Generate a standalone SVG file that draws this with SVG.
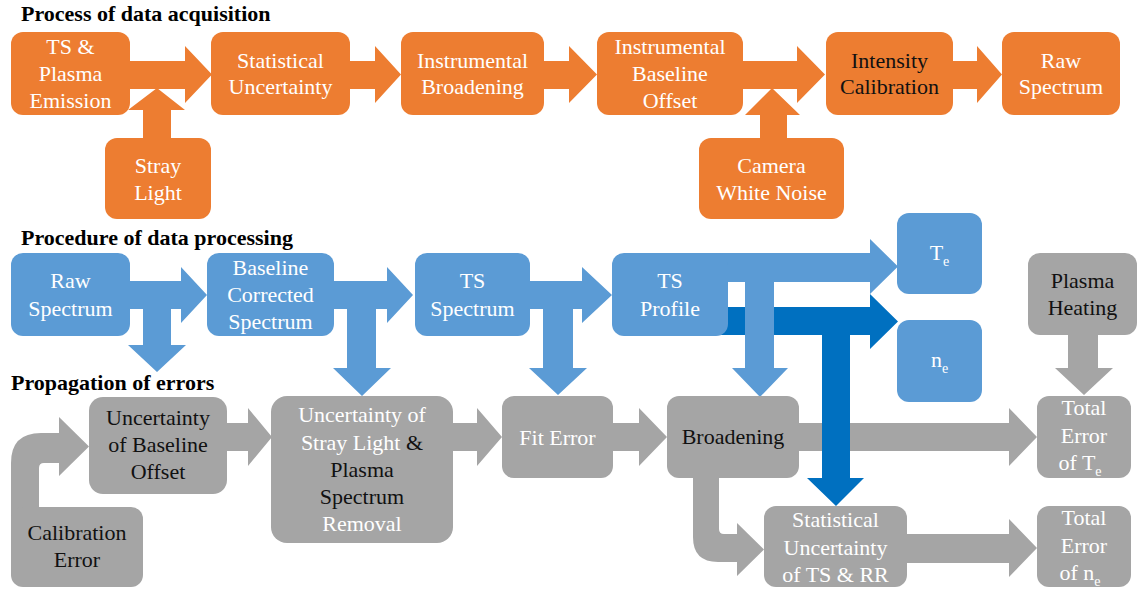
<svg xmlns="http://www.w3.org/2000/svg" width="1138" height="592" viewBox="0 0 1138 592">
<style>
.or{fill:#ED7D31}
.lb{fill:#5B9BD5}
.db{fill:#0070C0}
.gr{fill:#A5A5A5}
.w{fill:#FFFFFF}
.k{fill:#111111}
</style>
<rect width="1138" height="592" fill="#FFFFFF"/>
<g font-family="Liberation Serif, Times New Roman, serif" font-size="22" font-weight="bold" fill="#000000">
<text x="21" y="21">Process of data acquisition</text>
<text x="21" y="245">Procedure of data processing</text>
<text x="11" y="390">Propagation of errors</text>
</g>

<g id="connectors">
  <path class="or" d="M125,61 H185 V46 L212,74.5 L185,103 V89 H125 Z"/>
  <path class="or" d="M143,140 V110 H128 L157,88 L185,110 H171 V140 Z"/>
  <path class="or" d="M345,61 H375 V46 L401,74.5 L375,103 V89 H345 Z"/>
  <path class="or" d="M540,61 H569 V46 L597,74.5 L569,103 V89 H540 Z"/>
  <path class="or" d="M738,61 H797 V46 L825,74.5 L797,103 V89 H738 Z"/>
  <path class="or" d="M760,140 V115 H745 L772,88 L800,115 H787 V140 Z"/>
  <path class="or" d="M948,61 H977 V46 L1002,74.5 L977,103 V89 H948 Z"/>
  <path class="lb" d="M125,281 H181 V267 L207,295 L181,323 V309 H125 Z"/>
  <path class="lb" d="M143,300 H171 V345 H186 L157,372 L128,345 H143 Z"/>
  <path class="lb" d="M330,281 H387 V267 L413,295 L387,323 V309 H376 V368 H391 L362,396 L333,368 H347 V309 H330 Z"/>
  <path class="lb" d="M525,281 H582 V267 L612,295 L582,323 V309 H573 V368 H587 L558,395 L529,368 H543 V309 H525 Z"/>
  <path class="db" d="M715,307 H870 V294 L898,321.5 L870,349 V335 H715 Z"/>
  <path class="lb" d="M700,253 H870 V239 L898,266.5 L870,294 V282 H774 V368 H788 L760,397 L732,368 H745 V282 H700 Z"/>
  <path class="gr" d="M1068,330 H1098 V368 H1113 L1084,395 L1055,368 H1068 Z"/>
  <path class="gr" d="M11,520 V463 Q11,433 41,433 H59 V417 L89,446.5 L59,476 V463 H44 Q39,463 39,468 V520 Z"/>
  <path class="gr" d="M222,423 H248 V408 L272,437 L248,466 V451 H222 Z"/>
  <path class="gr" d="M448,423 H477 V408 L502,437 L477,466 V451 H448 Z"/>
  <path class="gr" d="M608,423 H639 V408 L667,437 L639,466 V451 H608 Z"/>
  <path class="gr" d="M794,423 H1009 V408 L1037,437 L1009,466 V451 H794 Z"/>
  <path class="gr" d="M693,470 H719 V529 Q719,534 724,534 H737 V523 L764,549.5 L737,576 V562 H718 Q693,562 693,537 Z"/>
  <path class="gr" d="M902,534 H1009 V519 L1037,548 L1009,577 V563 H902 Z"/>
  <path class="db" d="M822,320 H850 V478 H864 L836,506 L807,478 H822 Z"/>
</g>

<g font-family="Liberation Serif, Times New Roman, serif" font-size="22" text-anchor="middle">
<g id="n-ts-plasma-emission"><rect class="or" x="11" y="32" width="119" height="83" rx="12"/>
<text class="w"><tspan x="70.5" y="54">TS &amp;</tspan><tspan x="70.5" y="81">Plasma</tspan><tspan x="70.5" y="108">Emission</tspan></text></g>
<g id="n-stray-light"><rect class="or" x="105" y="138" width="106" height="81" rx="12"/>
<text class="w"><tspan x="158" y="173">Stray</tspan><tspan x="158" y="200">Light</tspan></text></g>
<g id="n-statistical-uncertainty"><rect class="or" x="211" y="32" width="139" height="83" rx="12"/>
<text class="w"><tspan x="280.5" y="68">Statistical</tspan><tspan x="280.5" y="94">Uncertainty</tspan></text></g>
<g id="n-instrumental-broadening"><rect class="or" x="401" y="32" width="143" height="83" rx="12"/>
<text class="w"><tspan x="472.5" y="68">Instrumental</tspan><tspan x="472.5" y="94">Broadening</tspan></text></g>
<g id="n-instrumental-baseline-offset"><rect class="or" x="597" y="32" width="146" height="83" rx="12"/>
<text class="w"><tspan x="670" y="54">Instrumental</tspan><tspan x="670" y="81">Baseline</tspan><tspan x="670" y="108">Offset</tspan></text></g>
<g id="n-camera-white-noise"><rect class="or" x="699" y="138" width="145" height="81" rx="12"/>
<text class="w"><tspan x="771.5" y="173">Camera</tspan><tspan x="771.5" y="200">White Noise</tspan></text></g>
<g id="n-intensity-calibration"><rect class="or" x="826" y="32" width="127" height="83" rx="12"/>
<text class="k"><tspan x="889.5" y="68">Intensity</tspan><tspan x="889.5" y="94">Calibration</tspan></text></g>
<g id="n-raw-spectrum-1"><rect class="or" x="1002" y="32" width="118" height="83" rx="12"/>
<text class="w"><tspan x="1061" y="68">Raw</tspan><tspan x="1061" y="94">Spectrum</tspan></text></g>

<g id="n-raw-spectrum-2"><rect class="lb" x="11" y="253" width="119" height="83" rx="12"/>
<text class="w"><tspan x="70.5" y="288">Raw</tspan><tspan x="70.5" y="316">Spectrum</tspan></text></g>
<g id="n-baseline-corrected"><rect class="lb" x="207" y="253" width="127" height="83" rx="12"/>
<text class="w"><tspan x="270.5" y="275">Baseline</tspan><tspan x="270.5" y="302">Corrected</tspan><tspan x="270.5" y="329">Spectrum</tspan></text></g>
<g id="n-ts-spectrum"><rect class="lb" x="415" y="253" width="115" height="83" rx="12"/>
<text class="w"><tspan x="472.5" y="288">TS</tspan><tspan x="472.5" y="316">Spectrum</tspan></text></g>
<g id="n-ts-profile"><rect class="lb" x="612" y="253" width="116" height="83" rx="12"/>
<text class="w"><tspan x="670" y="288">TS</tspan><tspan x="670" y="316">Profile</tspan></text></g>
<g id="n-te"><rect class="lb" x="897" y="213" width="85" height="81" rx="12"/>
<text class="w" x="939.5" y="260">T<tspan font-size="14" dy="6">e</tspan></text></g>
<g id="n-ne"><rect class="lb" x="897" y="320" width="85" height="82" rx="12"/>
<text class="w" x="939.5" y="367">n<tspan font-size="14" dy="6">e</tspan></text></g>
<g id="n-plasma-heating"><rect class="gr" x="1028" y="253" width="109" height="82" rx="12"/>
<text class="k"><tspan x="1082.5" y="288">Plasma</tspan><tspan x="1082.5" y="315">Heating</tspan></text></g>

<g id="n-uncertainty-baseline-offset"><rect class="gr" x="89" y="397" width="138" height="97" rx="14"/>
<text class="k"><tspan x="158" y="425">Uncertainty</tspan><tspan x="158" y="452">of Baseline</tspan><tspan x="158" y="479">Offset</tspan></text></g>
<g id="n-calibration-error"><rect class="gr" x="11" y="507" width="132" height="80" rx="12"/>
<text class="k"><tspan x="77" y="540">Calibration</tspan><tspan x="77" y="567">Error</tspan></text></g>
<g id="n-uncertainty-stray-light"><rect class="gr" x="271" y="396" width="182" height="147" rx="16"/>
<text><tspan class="w" x="362" y="422">Uncertainty of</tspan><tspan x="362" y="450"><tspan class="w">Stray Light </tspan><tspan class="k">&amp;</tspan></tspan><tspan class="k" x="362" y="477">Plasma</tspan><tspan class="k" x="362" y="504">Spectrum</tspan><tspan class="w" x="362" y="531">Removal</tspan></text></g>
<g id="n-fit-error"><rect class="gr" x="502" y="396" width="111" height="82" rx="12"/>
<text class="w" x="557.5" y="445">Fit Error</text></g>
<g id="n-broadening"><rect class="gr" x="667" y="396" width="132" height="82" rx="12"/>
<text class="k" x="733" y="444">Broadening</text></g>
<g id="n-statistical-uncertainty-ts-rr"><rect class="gr" x="764" y="506" width="143" height="81" rx="12"/>
<text class="w"><tspan x="835.5" y="527">Statistical</tspan><tspan x="835.5" y="555">Uncertainty</tspan><tspan x="835.5" y="582">of TS &amp; RR</tspan></text></g>
<g id="n-total-error-te"><rect class="gr" x="1037" y="396" width="94" height="82" rx="12"/>
<text class="w"><tspan x="1084" y="415">Total</tspan><tspan x="1084" y="443">Error</tspan><tspan x="1080" y="470">of T<tspan font-size="14" dy="6">e</tspan></tspan></text></g>
<g id="n-total-error-ne"><rect class="gr" x="1037" y="506" width="94" height="81" rx="12"/>
<text class="w"><tspan x="1084" y="525">Total</tspan><tspan x="1084" y="553">Error</tspan><tspan x="1080" y="580">of n<tspan font-size="14" dy="6">e</tspan></tspan></text></g>
</g>
</svg>
